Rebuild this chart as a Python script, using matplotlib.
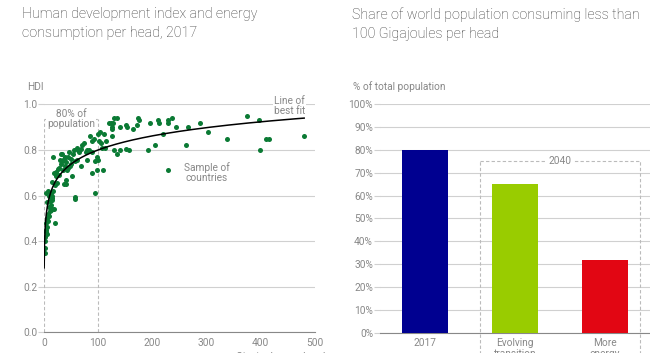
import numpy as np
import matplotlib.pyplot as plt

plt.rcParams['font.family'] = ['Roboto', 'DejaVu Sans']

# energy per head (GJ) and HDI, sample of countries 2017
energy = [1, 1, 2, 2, 3, 4, 5, 3, 6, 7, 5, 9, 8, 11, 12, 14, 18, 20, 10, 13,
          11, 14, 14, 15, 4, 7, 17, 9, 15, 19, 17, 20, 24, 23, 22, 25, 6, 12,
          30, 31, 34, 32, 34, 36, 39, 41, 38, 35, 43, 40, 41, 44, 46, 49, 52, 54,
          57, 61, 60, 63, 58, 58, 65, 68, 68, 71, 74, 77, 79, 28, 27, 45, 50, 55,
          48, 36,
          83, 84, 89, 93, 94, 97, 99, 89, 97, 94, 99, 104, 101, 105, 107, 108,
          110, 112, 114, 88, 80,
          120, 123, 127, 125, 125, 126, 130, 135, 140, 130, 135, 141, 152, 156,
          151, 154, 164, 172, 174, 176, 191, 196, 204,
          211, 213, 219, 228, 229, 236, 243, 262, 265, 288, 302, 337, 374, 397,
          398, 410, 415, 480]
hdi = [0.35, 0.37, 0.40, 0.42, 0.44, 0.45, 0.46, 0.48, 0.43, 0.49, 0.50, 0.51,
       0.52, 0.53, 0.535, 0.54, 0.54, 0.48, 0.55, 0.56, 0.575, 0.58, 0.59, 0.60,
       0.61, 0.62, 0.62, 0.60, 0.66, 0.70, 0.77, 0.647, 0.656, 0.685, 0.705,
       0.715, 0.57, 0.61,
       0.756, 0.74, 0.75, 0.78, 0.78, 0.76, 0.77, 0.745, 0.73, 0.71, 0.71, 0.67,
       0.65, 0.77, 0.79, 0.76, 0.685, 0.78, 0.75, 0.756, 0.81, 0.80, 0.595,
       0.585, 0.79, 0.805, 0.73, 0.82, 0.83, 0.79, 0.756, 0.72, 0.69, 0.72,
       0.74, 0.80, 0.73, 0.65,
       0.80, 0.86, 0.84, 0.85, 0.75, 0.77, 0.755, 0.70, 0.71, 0.61, 0.87, 0.88,
       0.84, 0.83, 0.81, 0.71, 0.87, 0.81, 0.84, 0.79, 0.80,
       0.92, 0.92, 0.92, 0.86, 0.89, 0.90, 0.94, 0.94, 0.90, 0.80, 0.78, 0.80,
       0.805, 0.80, 0.91, 0.90, 0.89, 0.91, 0.94, 0.93, 0.80, 0.92, 0.82,
       0.93, 0.92, 0.87, 0.93, 0.92, 0.94, 0.90, 0.82, 0.90, 0.92, 0.88, 0.85,
       0.95, 0.93, 0.80, 0.85, 0.85, 0.86]

# line of best fit, hdi = fit_a + fit_b * ln(GJ)
fit_a = 0.39
fit_b = 0.089
fit_range = [0.3, 480]

# share of population under 100 GJ per head
bar_labels = ['2017', 'Evolving\ntransition', 'More\nenergy']
bar_values = [80, 65, 32]
bar_colors = ['#000090', '#99cc00', '#e20613']

grey = '#888888'
grid = '#d0d0d0'
green = '#0b7a34'
fs = 7.3

fig = plt.figure(figsize=(6.5, 3.53), dpi=100)

# ---- left: scatter ----
ax = fig.add_axes([44/650, 1 - 332.3/353, 271/650, 228/353])
ax.set_xlim(0, 500)
ax.set_ylim(0, 1.0)
ax.set_yticks(np.arange(0, 1.01, 0.2))
ax.set_xticks(range(0, 501, 100))
ax.grid(axis='y', color=grid, lw=0.8)
ax.set_axisbelow(True)
for s in ['top', 'right', 'left']:
    ax.spines[s].set_visible(False)
ax.spines['bottom'].set_color(grey)
ax.tick_params(axis='y', colors=grid, labelcolor=grey, labelsize=fs, length=4, width=0.8, pad=1)
ax.tick_params(axis='x', colors=grey, labelsize=fs, length=0, pad=4)
ax.yaxis.set_major_formatter(plt.FuncFormatter(lambda v, p: '%.1f' % v))

# 80% of population box
dash = dict(color='#bbbbbb', lw=0.8, ls=(0, (3, 2)))
ax.plot([0, 0], [0, 0.937], **dash)
ax.plot([100, 100], [0, 0.937], **dash)
ax.plot([0, 100], [0.937, 0.937], **dash)
ax.text(50, 0.937, '80% of\npopulation', ha='center', va='center', fontsize=fs,
        color=grey, linespacing=1.0, bbox=dict(fc='white', ec='none', pad=0.5))

ax.scatter(energy, hdi, s=13, color=green, zorder=3, linewidths=0)

xs = np.linspace(fit_range[0], fit_range[1], 600)
ax.plot(xs, fit_a + fit_b * np.log(xs), color='black', lw=1.1, zorder=4)

ax.text(453, 0.994, 'Line of\nbest fit', ha='center', va='center', fontsize=fs,
        color=grey, linespacing=1.0, bbox=dict(fc='white', ec='none', pad=0.5))
ax.scatter([228], [0.71], s=13, color=green, linewidths=0)
ax.text(300, 0.70, 'Sample of\ncountries', ha='center', va='center', fontsize=fs,
        color=grey, linespacing=1.0)

fig.text(27/650, 1 - 86.7/353, 'HDI', fontsize=fs, color=grey, va='center')
ax.text(1.04, -0.085, 'Gigajoules per head', transform=ax.transAxes, ha='right',
        va='top', fontsize=fs, color=grey)

fig.text(22/650, 1 - 7/353, 'Human development index and energy\nconsumption per head, 2017',
         fontsize=10.3, color='#3a3a3a', va='top', linespacing=1.5, fontweight='light')

# ---- right: bars ----
bx = fig.add_axes([380/650, 1 - 332.7/353, 270/650, 228.4/353])
pos = np.arange(len(bar_values))
bx.bar(pos, bar_values, width=0.52, color=bar_colors, zorder=3)
bx.set_xlim(-0.5, 2.5)
bx.set_ylim(0, 100)
bx.set_yticks(range(0, 101, 10))
bx.yaxis.set_major_formatter(plt.FuncFormatter(lambda v, p: '%d%%' % v))
bx.set_xticks(pos)
bx.set_xticklabels(bar_labels, linespacing=1.1)
bx.grid(axis='y', color=grid, lw=0.8)
bx.set_axisbelow(True)
for s in ['top', 'right', 'left']:
    bx.spines[s].set_visible(False)
bx.spines['bottom'].set_color(grey)
bx.tick_params(axis='y', colors=grid, labelcolor=grey, labelsize=fs, length=4, width=0.8, pad=1)
bx.tick_params(axis='x', colors=grey, labelsize=fs, length=0, pad=4)

# 2040 box
bx.plot([0.611, 0.611], [-12, 75], clip_on=False, **dash)
bx.plot([2.389, 2.389], [-12, 75], clip_on=False, **dash)
bx.plot([0.611, 2.389], [75, 75], **dash)
bx.text(1.5, 75, '2040', ha='center', va='center', fontsize=fs, color=grey,
        bbox=dict(fc='white', ec='none', pad=2))

fig.text(353/650, 1 - 86.7/353, '% of total population', fontsize=fs, color=grey, va='center')
fig.text(352/650, 1 - 7/353, 'Share of world population consuming less than\n100 Gigajoules per head',
         fontsize=10.3, color='#3a3a3a', va='top', linespacing=1.5, fontweight='light')

fig.savefig('out.png', dpi=100)
